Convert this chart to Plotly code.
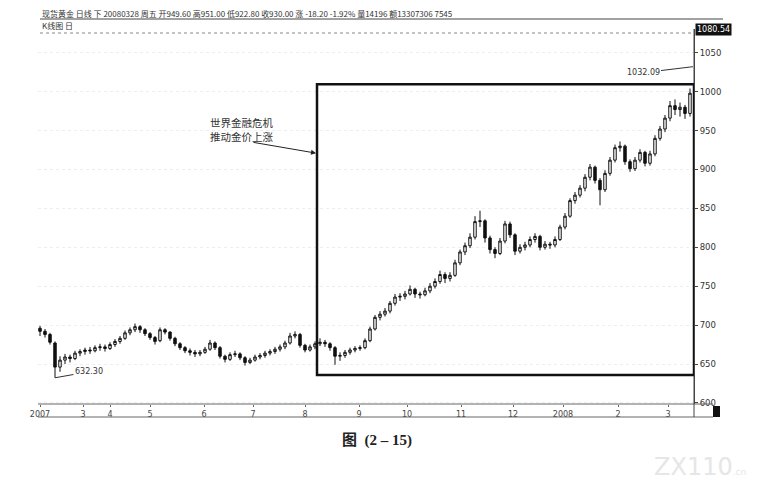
import plotly.graph_objects as go

# ---- data ----
opens = [696, 692, 688, 677, 646, 655, 659, 657, 664, 666, 668, 667, 671, 672, 670, 675, 679, 683, 690, 694,
         698, 694, 689, 684, 680, 694, 691, 683, 676, 671, 667, 665, 663, 665, 669, 677, 671, 660, 656, 662,
         663, 658, 652, 655, 659, 661, 664, 666, 669, 672, 677, 686, 688, 674, 668, 672, 676, 678, 676, 671,
         660, 661, 665, 668, 670, 671, 680, 695, 710, 714, 718, 728, 736, 737, 740, 746, 740, 739, 744, 750,
         756, 765, 760, 764, 780, 794, 802, 813, 833, 834, 812, 797, 792, 808, 830, 816, 795, 800, 803, 810,
         814, 800, 804, 803, 810, 826, 840, 860, 867, 876, 890, 903, 886, 874, 895, 912, 928, 930, 910, 901,
         912, 922, 908, 920, 940, 952, 966, 982, 977, 980, 972]
highs = [699, 695, 690, 679, 660, 663, 662, 667, 669, 671, 672, 674, 676, 675, 678, 682, 686, 693, 697, 702,
         700, 696, 691, 686, 697, 696, 692, 685, 678, 673, 670, 668, 668, 672, 681, 679, 673, 662, 665, 667,
         665, 660, 658, 662, 664, 667, 669, 672, 675, 680, 690, 692, 690, 676, 675, 679, 683, 681, 678, 673,
         665, 668, 671, 673, 674, 683, 698, 713, 718, 722, 731, 740, 741, 744, 751, 748, 743, 748, 754, 760,
         770, 768, 768, 784, 797, 806, 818, 840, 847, 836, 815, 800, 812, 834, 833, 818, 804, 807, 814, 818,
         816, 808, 807, 814, 829, 844, 863, 871, 880, 894, 907, 905, 889, 899, 916, 932, 936, 932, 913, 916,
         926, 924, 924, 944, 956, 970, 988, 990, 986, 983, 1004]
lows = [686, 684, 675, 632.3, 640, 650, 652, 655, 660, 662, 663, 665, 667, 666, 668, 672, 676, 681, 687, 691,
        690, 686, 681, 675, 678, 688, 680, 673, 668, 664, 661, 659, 660, 663, 667, 668, 657, 652, 654, 659,
        655, 648, 650, 653, 656, 658, 661, 663, 666, 669, 675, 683, 671, 665, 666, 669, 673, 672, 667, 649,
        654, 658, 662, 665, 667, 669, 678, 693, 706, 711, 715, 725, 731, 733, 738, 735, 734, 737, 741, 747,
        753, 754, 756, 762, 777, 790, 799, 810, 826, 806, 792, 786, 790, 805, 812, 790, 792, 796, 800, 806,
        796, 797, 798, 800, 808, 823, 838, 856, 864, 872, 886, 882, 854, 871, 892, 909, 923, 906, 897, 898,
        909, 904, 905, 917, 937, 948, 962, 970, 968, 965, 968]
closes = [692, 688, 678, 646, 655, 659, 657, 664, 666, 668, 667, 671, 672, 670, 675, 679, 683, 690, 694, 698,
          694, 689, 684, 679, 694, 691, 683, 676, 671, 667, 665, 663, 665, 669, 677, 671, 660, 656, 662, 663,
          658, 652, 655, 659, 661, 664, 666, 669, 672, 677, 686, 688, 674, 668, 672, 676, 678, 676, 671, 660,
          661, 665, 668, 670, 671, 680, 695, 710, 714, 718, 728, 736, 737, 740, 746, 740, 739, 744, 750, 756,
          765, 760, 764, 780, 794, 802, 813, 833, 834, 812, 797, 792, 808, 830, 816, 795, 800, 803, 810, 814,
          800, 804, 803, 810, 826, 840, 860, 867, 876, 890, 903, 886, 874, 895, 912, 928, 930, 910, 901, 912,
          922, 908, 920, 940, 952, 966, 982, 977, 980, 972, 998]
bar_index = list(range(len(closes)))

tick_pos = [0, 8.6, 14, 22, 32.8, 42.6, 53, 63.8, 73.4, 84.2, 94.6, 104.6, 115.6, 125.6]
tick_text = ["2007", "3", "4", "5", "6", "7", "8", "9", "10", "11", "12", "2008", "2", "3"]
price_ticks = [600, 650, 700, 750, 800, 850, 900, 950, 1000, 1050]

low_value = 632.30
high_value = 1032.09
top_value = 1080.54
y_min = 598.6

header = ("现货黄金 日线 下 20080328 周五 开949.60 高951.00 低922.80 收930.00 "
          "涨 -18.20 -1.92% 量14196 额13307306 7545")

# highlighted region (in bar index / price)
box_x0, box_x1 = 55.4, 130.8
box_y0, box_y1 = 636.0, 1009.6

# ---- figure geometry (page has an 8px body margin) ----
OFF = 8
W, H = 782 - OFF, 490 - OFF
PLOT_L, PLOT_R, PLOT_T, PLOT_B = 38, 694, 29, 404   # page pixels
L, R, T, B = PLOT_L - OFF, W - (PLOT_R - OFF), PLOT_T - OFF, H - (PLOT_B - OFF)
PW, PH = PLOT_R - PLOT_L, PLOT_B - PLOT_T


def px(xp):
    return (xp - PLOT_L) / PW


def py(yp):
    return (PLOT_B - yp) / PH


fig = go.Figure()
fig.add_trace(go.Candlestick(
    x=bar_index, open=opens, high=highs, low=lows, close=closes,
    increasing=dict(line=dict(color="#111111", width=1), fillcolor="white"),
    decreasing=dict(line=dict(color="#111111", width=1), fillcolor="#111111"),
    whiskerwidth=0, showlegend=False, hoverinfo="skip",
))

txt_font = dict(family="Noto Sans CJK SC, DejaVu Sans", color="#333333")

annotations = [
    dict(xref="paper", yref="paper", x=px(40), y=py(13), text=header, showarrow=False,
         xanchor="left", yanchor="middle", font=dict(size=8, **txt_font)),
    dict(xref="paper", yref="paper", x=px(40), y=py(26), text="K线图 日", showarrow=False,
         xanchor="left", yanchor="middle", font=dict(size=8, **txt_font)),
    dict(xref="paper", yref="y", x=1.002, y=top_value, text="1080.54", showarrow=False,
         xanchor="left", yanchor="middle", bgcolor="#111111", borderpad=1,
         font=dict(size=8, family="DejaVu Sans", color="white")),
    dict(x=3, y=low_value, text="632.30", showarrow=True, arrowhead=0, arrowwidth=1,
         arrowcolor="#333333", ax=34, ay=-6, xanchor="center",
         font=dict(size=8, family="DejaVu Sans", color="#333333")),
    dict(x=130.6, y=high_value, text="1032.09", showarrow=True, arrowhead=0, arrowwidth=1,
         arrowcolor="#333333", ax=-50, ay=6,
         font=dict(size=8, family="DejaVu Sans", color="#333333")),
    dict(xref="paper", yref="paper", x=px(208), y=py(130), text="世界金融危机<br>推动金价上涨",
         showarrow=False, xanchor="left", yanchor="middle", align="left",
         font=dict(size=10.5, **txt_font)),
    dict(x=55.2, y=921, text="", showarrow=True, arrowhead=2, arrowsize=1, arrowwidth=1,
         arrowcolor="#222222", ax=-64, ay=-11),
    dict(xref="paper", yref="paper", x=px(377), y=py(440), text="<b>图  (2 – 15)</b>",
         showarrow=False, xanchor="center", yanchor="middle",
         font=dict(size=15, family="Liberation Serif, Noto Sans CJK SC", color="#222222")),
    dict(xref="paper", yref="paper", x=px(700), y=py(467),
         text="ZX110<span style='font-size:9px'>.cn</span>", showarrow=False,
         xanchor="center", yanchor="middle",
         font=dict(size=24, family="DejaVu Sans", color="#e6e6e6")),
]

shapes = [
    # header underline
    dict(type="line", xref="paper", yref="paper", x0=px(40), x1=px(723), y0=py(19), y1=py(19),
         line=dict(color="#444444", width=1)),
    # dotted top line of chart area
    dict(type="line", xref="paper", yref="paper", x0=px(40), x1=1, y0=py(33), y1=py(33),
         line=dict(color="#888888", width=1, dash="dot")),
    # x-axis band
    dict(type="line", xref="paper", yref="paper", x0=0, x1=px(713), y0=0, y1=0,
         line=dict(color="#666666", width=1)),
    dict(type="line", xref="paper", yref="paper", x0=0, x1=px(713), y0=py(417), y1=py(417),
         line=dict(color="#666666", width=1)),
    dict(type="line", xref="paper", yref="paper", x0=1, x1=1, y0=py(417), y1=1,
         line=dict(color="#444444", width=1)),
    dict(type="rect", xref="paper", yref="paper", x0=px(713), x1=px(720), y0=py(406), y1=py(417),
         line=dict(width=0), fillcolor="#111111"),
    # highlight box
    dict(type="rect", x0=box_x0, x1=box_x1, y0=box_y0, y1=box_y1,
         line=dict(color="#111111", width=2.5), fillcolor="rgba(0,0,0,0)"),
]

fig.update_layout(
    width=W, height=H,
    margin=dict(l=L, r=R, t=T, b=B, autoexpand=False),
    paper_bgcolor="white", plot_bgcolor="white",
    showlegend=False,
    annotations=annotations, shapes=shapes,
    xaxis=dict(
        range=[-0.4, 130.8], rangeslider=dict(visible=False),
        tickmode="array", tickvals=tick_pos, ticktext=tick_text,
        ticks="outside", ticklen=2, tickcolor="#666666",
        tickfont=dict(size=8, family="DejaVu Sans", color="#444444"),
        showgrid=False, zeroline=False, showline=False, fixedrange=True,
    ),
    yaxis=dict(
        side="right", range=[y_min, top_value],
        tickmode="array", tickvals=price_ticks,
        ticks="outside", ticklen=3, tickcolor="#444444",
        tickfont=dict(size=8.5, family="DejaVu Sans", color="#333333"),
        showgrid=True, gridcolor="#eeeeee", griddash="dot",
        zeroline=False, showline=True, linecolor="#444444", fixedrange=True,
    ),
)

fig.write_html("out.html")
